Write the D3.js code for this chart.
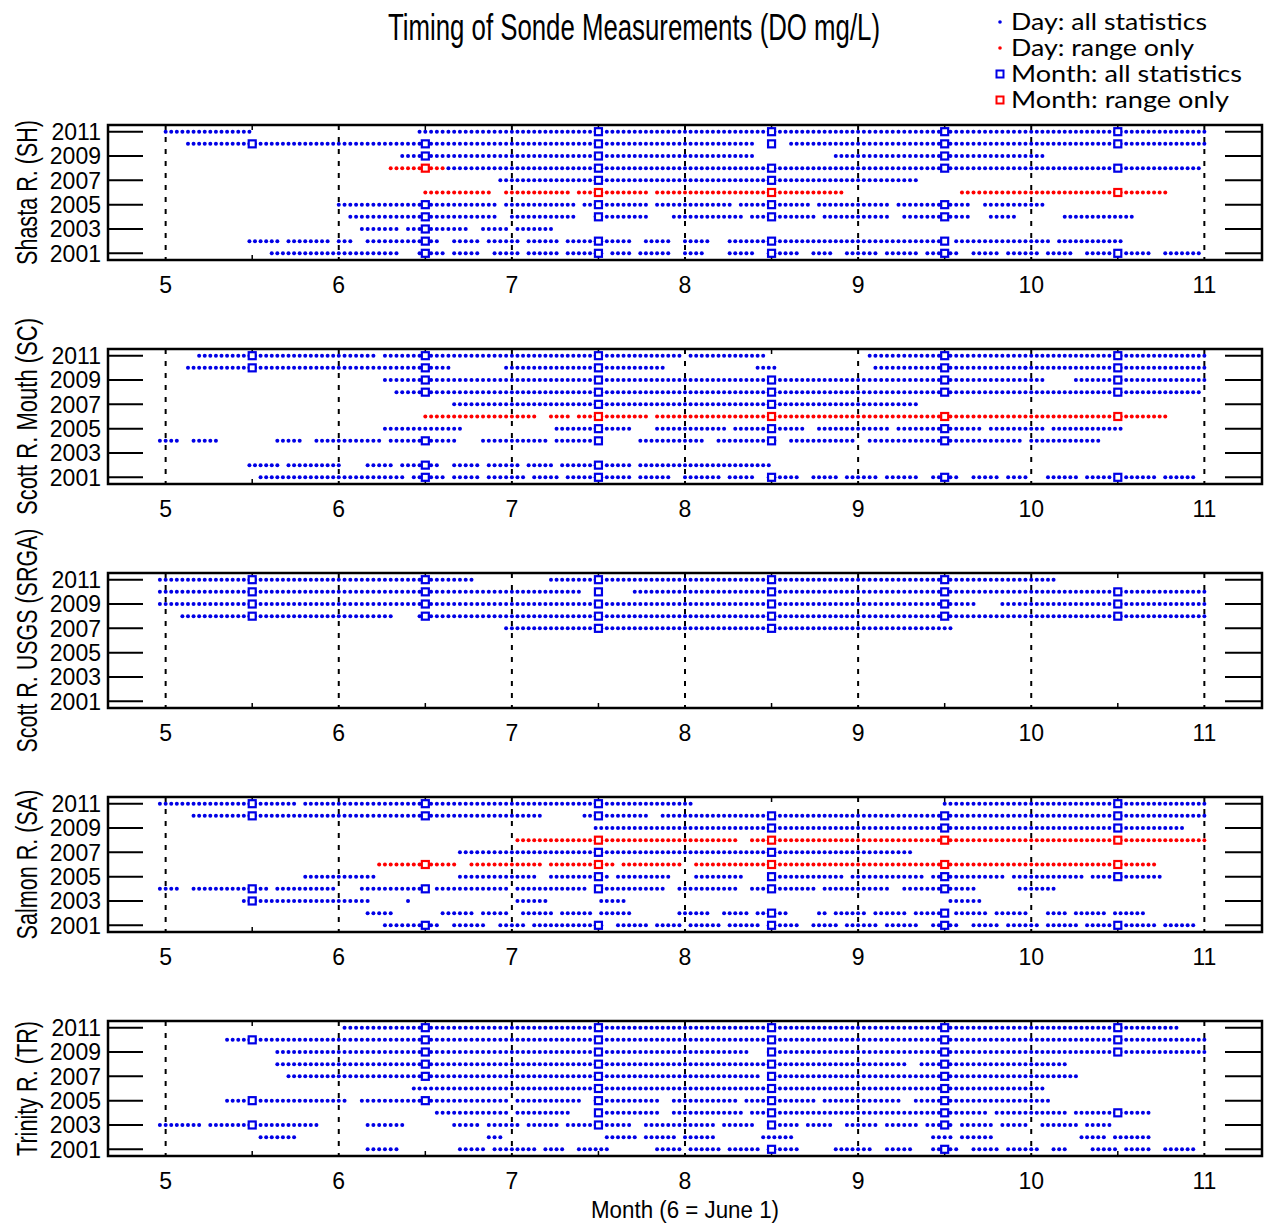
<!DOCTYPE html>
<html lang="en">
  <head>
    <meta charset="UTF-8" />
    <script src="https://d3js.org/d3.v7.min.js"></script>
    <title>Timing of Sonde Measurements</title>
    <style>
      body { margin: 0; background: #fff; }
      text { font-family: "Liberation Sans", Arial, sans-serif; fill: #000; }
      .legend text { font-family: Lato, "Open Sans", sans-serif; }
    </style>
  </head>
  <body>
    <div id="chart"></div>
    <script>
      // runs of daily measurements, [start, end] in decimal months (6 = June 1)
      var shDayAll = [
        [2011, [[5.0, 5.47], [6.46, 11.0]]],
        [2010, [[5.12, 5.74], [5.79, 8.39], [8.62, 11.0]]],
        [2009, [[6.38, 7.7], [7.75, 7.91], [7.95, 8.39], [8.88, 10.07]]],
        [2008, [[6.62, 10.96]]],
        [2007, [[6.92, 9.32]]],
        [2005, [[6.01, 6.9], [6.98, 7.35], [7.43, 7.77], [7.85, 8.25], [8.33, 8.71], [8.79, 9.17], [9.24, 9.62], [9.72, 10.06]]],
        [2004, [[6.08, 6.9], [7.01, 7.36], [7.47, 7.78], [7.92, 8.32], [8.4, 8.75], [8.82, 9.18], [9.27, 9.63], [9.75, 9.9], [10.2, 10.58]]],
        [2003, [[6.12, 6.35], [6.39, 6.52], [6.58, 6.73], [6.82, 6.97], [7.04, 7.23]]],
        [2002, [[5.47, 5.65], [5.72, 5.94], [6.01, 6.07], [6.18, 6.33], [6.38, 6.56], [6.65, 6.81], [6.88, 7.03], [7.11, 7.26], [7.33, 7.5], [7.56, 7.68], [7.78, 7.91], [8.0, 8.13], [8.27, 9.47], [9.57, 10.1], [10.17, 10.51]]],
        [2001, [[5.6, 5.97], [6.01, 6.15], [6.2, 6.35], [6.46, 6.6], [6.66, 6.81], [6.89, 7.03], [7.1, 7.26], [7.33, 7.52], [7.57, 7.68], [7.74, 7.91], [8.0, 8.11], [8.27, 8.4], [8.47, 8.64], [8.73, 8.85], [8.94, 9.1], [9.18, 9.34], [9.41, 9.56], [9.66, 9.79], [9.88, 10.02], [10.11, 10.24], [10.32, 10.45], [10.55, 10.68], [10.79, 10.98]]]
      ];
      var shDayRange = [
        [2008, [[6.31, 6.6]]],
        [2006, [[6.49, 6.86], [6.95, 7.32], [7.4, 7.77], [7.85, 8.9], [9.61, 10.77]]]
      ];
      var shMonAll = [
        [2011, [7, 8, 9, 10]], [2010, [5, 6, 7, 8, 9, 10]], [2009, [6, 7, 9]],
        [2008, [7, 8, 9, 10]], [2007, [7, 8]], [2005, [6, 7, 8, 9]],
        [2004, [6, 7, 8, 9]], [2003, [6]], [2002, [6, 7, 8, 9]], [2001, [6, 7, 8, 9, 10]]
      ];
      var shMonRange = [[2008, [6]], [2006, [7, 8, 10]]];

      var scDayAll = [
        [2011, [[5.18, 6.2], [6.25, 7.98], [8.04, 8.45], [9.05, 11.0]]],
        [2010, [[5.12, 6.63], [6.95, 7.88], [8.43, 8.52], [9.11, 9.96], [9.99, 11.0]]],
        [2009, [[6.28, 10.07], [10.26, 11.0]]],
        [2008, [[6.35, 10.96]]],
        [2007, [[6.68, 9.32]]],
        [2005, [[6.28, 6.7], [7.27, 7.67], [7.85, 8.22], [8.3, 8.67], [8.76, 9.17], [9.24, 9.69], [9.78, 10.06], [10.14, 10.51]]],
        [2004, [[4.98, 5.06], [5.15, 5.29], [5.66, 5.78], [5.86, 6.23], [6.31, 6.67], [6.82, 7.19], [7.27, 7.46], [7.75, 8.1], [8.18, 8.53], [8.62, 8.97], [9.08, 9.47], [9.54, 9.92], [10.0, 10.39]]],
        [2002, [[5.47, 5.65], [5.72, 6.0], [6.15, 6.3], [6.38, 6.56], [6.65, 6.81], [6.88, 7.03], [7.1, 7.23], [7.3, 7.47], [7.56, 7.68], [7.75, 8.48]]],
        [2001, [[5.56, 5.97], [6.01, 6.15], [6.21, 6.36], [6.44, 6.6], [6.66, 6.81], [6.88, 7.06], [7.14, 7.26], [7.32, 7.5], [7.56, 7.68], [7.74, 7.91], [8.0, 8.19], [8.27, 8.39], [8.47, 8.64], [8.73, 8.87], [8.94, 9.1], [9.18, 9.34], [9.42, 9.57], [9.66, 9.8], [9.88, 9.99], [10.11, 10.25], [10.32, 10.45], [10.55, 10.7], [10.79, 10.93]]]
      ];
      var scDayRange = [
        [2006, [[6.49, 7.13], [7.21, 7.32], [7.4, 7.77], [7.85, 10.77]]]
      ];
      var scMonAll = [
        [2011, [5, 6, 7, 9, 10]], [2010, [5, 6, 7, 9, 10]], [2009, [6, 7, 8, 9, 10]],
        [2008, [6, 7, 8, 9, 10]], [2007, [7, 8]], [2005, [7, 8, 9]],
        [2004, [6, 7, 8, 9]], [2002, [6, 7]], [2001, [6, 7, 8, 9, 10]]
      ];
      var scMonRange = [[2006, [7, 8, 9, 10]]];

      var sgDayAll = [
        [2011, [[4.99, 6.76], [7.23, 10.13]]],
        [2010, [[4.99, 7.38], [7.72, 11.0]]],
        [2009, [[4.99, 9.65], [9.85, 11.0]]],
        [2008, [[5.09, 6.29], [6.45, 11.0]]],
        [2007, [[6.96, 9.52]]]
      ];
      var sgDayRange = [];
      var sgMonAll = [
        [2011, [5, 6, 7, 8, 9]], [2010, [5, 6, 7, 8, 9, 10]], [2009, [5, 6, 7, 8, 9, 10]],
        [2008, [5, 6, 7, 8, 9, 10]], [2007, [7, 8]]
      ];
      var sgMonRange = [];

      var saDayAll = [
        [2011, [[4.99, 5.74], [5.8, 8.02], [9.51, 11.0]]],
        [2010, [[5.15, 7.16], [7.43, 7.77], [7.88, 11.0]]],
        [2009, [[7.47, 10.87]]],
        [2007, [[6.71, 9.29]]],
        [2005, [[5.82, 6.2], [6.71, 7.13], [7.21, 7.55], [7.62, 7.9], [8.07, 8.32], [8.56, 8.9], [8.98, 9.37], [9.45, 9.83], [9.91, 10.28], [10.36, 10.74]]],
        [2004, [[4.98, 5.06], [5.15, 5.59], [5.66, 5.99], [6.12, 6.48], [6.58, 6.96], [7.04, 7.41], [7.52, 7.87], [7.98, 8.28], [8.4, 8.74], [8.82, 9.17], [9.27, 9.66], [9.94, 10.13]]],
        [2003, [[5.44, 6.17], [6.39, 6.39], [7.04, 7.19], [7.5, 7.64], [9.54, 9.69]]],
        [2002, [[6.15, 6.3], [6.61, 6.76], [6.85, 6.99], [7.07, 7.23], [7.3, 7.46], [7.53, 7.67], [7.98, 8.13], [8.21, 8.36], [8.43, 8.57], [8.76, 8.8], [8.88, 9.03], [9.11, 9.26], [9.34, 9.5], [9.58, 9.73], [9.81, 9.96], [10.11, 10.19], [10.26, 10.42], [10.49, 10.63]]],
        [2001, [[6.25, 6.58], [6.68, 6.84], [6.92, 7.06], [7.14, 7.38], [7.42, 7.53], [7.6, 7.76], [7.85, 7.96], [8.04, 8.19], [8.27, 8.41], [8.47, 8.64], [8.73, 8.87], [8.94, 9.1], [9.18, 9.34], [9.42, 9.57], [9.66, 9.8], [9.88, 10.02], [10.11, 10.25], [10.32, 10.46], [10.55, 10.7], [10.79, 10.93]]]
      ];
      var saDayRange = [
        [2008, [[7.04, 8.28], [8.4, 11.0]]],
        [2006, [[6.22, 6.68], [6.77, 7.16], [7.24, 7.58], [7.66, 7.99], [8.07, 10.7]]]
      ];
      var saMonAll = [
        [2011, [5, 6, 7, 10]], [2010, [5, 6, 7, 8, 9, 10]], [2009, [8, 9, 10]],
        [2007, [7, 8]], [2005, [7, 8, 9, 10]], [2004, [5, 6, 7, 8, 9]],
        [2003, [5]], [2002, [8, 9]], [2001, [6, 7, 8, 9, 10]]
      ];
      var saMonRange = [[2008, [7, 8, 9, 10]], [2006, [6, 7, 8, 9, 10]]];

      var trDayAll = [
        [2011, [[6.05, 10.83]]],
        [2010, [[5.34, 11.0]]],
        [2009, [[5.66, 8.36], [8.47, 11.0]]],
        [2008, [[5.66, 9.26], [9.38, 10.19]]],
        [2007, [[5.72, 8.42], [8.52, 10.25]]],
        [2006, [[6.44, 10.07]]],
        [2005, [[5.37, 5.46], [5.56, 6.03], [6.12, 6.47], [6.55, 6.97], [7.04, 7.38], [7.47, 7.84], [7.92, 8.28], [8.37, 8.74], [8.82, 9.23], [9.34, 10.09]]],
        [2004, [[6.58, 6.97], [7.04, 7.32], [7.5, 7.84], [7.93, 8.32], [8.4, 9.72], [9.81, 10.19], [10.26, 10.67]]],
        [2003, [[4.98, 5.2], [5.27, 5.87], [6.18, 6.37], [6.65, 6.81], [6.88, 7.03], [7.11, 7.26], [7.33, 7.52], [7.56, 7.68], [7.78, 8.16], [8.24, 8.39], [8.47, 8.64], [8.72, 8.84], [8.92, 9.1], [9.18, 9.33], [9.41, 9.53], [9.61, 9.77], [9.85, 9.99], [10.08, 10.25], [10.33, 10.45]]],
        [2002, [[5.56, 5.74], [6.88, 6.93], [7.56, 7.71], [7.78, 7.93], [8.0, 8.16], [8.46, 8.61], [9.42, 9.53], [9.61, 9.77], [10.29, 10.42], [10.49, 10.67]]],
        [2001, [[6.15, 6.33], [6.71, 6.84], [6.91, 7.13], [7.2, 7.29], [7.39, 7.55], [7.85, 7.96], [8.03, 8.19], [8.27, 8.42], [8.47, 8.64], [8.88, 9.08], [9.17, 9.29], [9.45, 9.56], [9.65, 9.8], [9.88, 10.02], [10.14, 10.19], [10.36, 10.48], [10.55, 10.67], [10.79, 10.93]]]
      ];
      var trDayRange = [];
      var trMonAll = [
        [2011, [6, 7, 8, 9, 10]], [2010, [5, 6, 7, 8, 9, 10]], [2009, [6, 7, 8, 9, 10]],
        [2008, [6, 7, 8, 9]], [2007, [6, 7, 8, 9]], [2006, [7, 8, 9]],
        [2005, [5, 6, 7, 8, 9]], [2004, [7, 8, 9, 10]], [2003, [5, 7, 8, 9]], [2001, [8, 9]]
      ];
      var trMonRange = [];

      var siteLabels = ["Shasta R. (SH)", "Scott R. Mouth (SC)", "Scott R. USGS (SRGA)", "Salmon R. (SA)", "Trinity R. (TR)"];
      var monthTicks = [5, 6, 7, 8, 9, 10, 11];
      var yearTicks = [2001, 2003, 2005, 2007, 2009, 2011];
      var legendLabels = ["Day: all statistics", "Day: range only", "Month: all statistics", "Month: range only"];

      var sites = [
        { dayAll: shDayAll, dayRange: shDayRange, monAll: shMonAll, monRange: shMonRange },
        { dayAll: scDayAll, dayRange: scDayRange, monAll: scMonAll, monRange: scMonRange },
        { dayAll: sgDayAll, dayRange: sgDayRange, monAll: sgMonAll, monRange: sgMonRange },
        { dayAll: saDayAll, dayRange: saDayRange, monAll: saMonAll, monRange: saMonRange },
        { dayAll: trDayAll, dayRange: trDayRange, monAll: trMonAll, monRange: trMonRange }
      ];
      var labelLens = [145, 197, 224, 150, 135];

      var width = 1265,
        height = 1224,
        left = 108,
        right = 1262,
        panelTops = [125, 349, 573, 797, 1021],
        panelH = 135,
        blue = "#0000e6",
        red = "#ff0000";

      var svg = d3.select("#chart").append("svg").attr("width", width).attr("height", height);

      var x = d3.scaleLinear().domain([4.667, 11.333]).range([left, right]);

      // turn a decimal month into a calendar date of that year
      function toDate(year, m) {
        var mo = Math.floor(m),
          dim = new Date(year, mo, 0).getDate(),
          day = Math.min(dim, Math.round((m - mo) * dim) + 1);
        return new Date(year, mo - 1, day);
      }
      function dateToMonth(d) {
        var dim = new Date(d.getFullYear(), d.getMonth() + 1, 0).getDate();
        return d.getMonth() + 1 + (d.getDate() - 1) / dim;
      }
      function dayPoints(rows) {
        var pts = [];
        rows.forEach(function (r) {
          r[1].forEach(function (run) {
            var a = toDate(r[0], run[0]),
              b = d3.timeDay.offset(toDate(r[0], run[1]), 1);
            d3.timeDay.range(a, b).forEach(function (d) {
              pts.push({ year: r[0], m: dateToMonth(d) });
            });
          });
        });
        return pts;
      }
      function monthPoints(rows) {
        var pts = [];
        rows.forEach(function (r) {
          r[1].forEach(function (mo) {
            pts.push({ year: r[0], m: mo + 0.5 });
          });
        });
        return pts;
      }

      sites.forEach(function (site, i) {
        var top = panelTops[i];
        var y = d3.scaleLinear().domain([2000.45, 2011.55]).range([top + panelH, top]);
        var g = svg.append("g");

        // dashed month lines
        g.selectAll("line.grid")
          .data(monthTicks)
          .enter()
          .append("line")
          .attr("x1", function (d) { return x(d); })
          .attr("x2", function (d) { return x(d); })
          .attr("y1", top)
          .attr("y2", top + panelH)
          .attr("stroke", "#000")
          .attr("stroke-width", 2)
          .attr("stroke-dasharray", "5,7");

        // half month minor ticks
        var half = d3.range(5, 11).map(function (d) { return d + 0.5; });
        [top, top + panelH].forEach(function (yy, k) {
          g.selectAll(null)
            .data(half)
            .enter()
            .append("line")
            .attr("x1", function (d) { return x(d); })
            .attr("x2", function (d) { return x(d); })
            .attr("y1", yy)
            .attr("y2", k ? yy - 5 : yy + 5)
            .attr("stroke", "#000")
            .attr("stroke-width", 1.5);
        });

        // year ticks, left and right
        g.selectAll(null)
          .data(yearTicks)
          .enter()
          .append("line")
          .attr("x1", left)
          .attr("x2", left + 35)
          .attr("y1", function (d) { return y(d); })
          .attr("y2", function (d) { return y(d); })
          .attr("stroke", "#000")
          .attr("stroke-width", 2);
        g.selectAll(null)
          .data(yearTicks)
          .enter()
          .append("line")
          .attr("x1", right - 37)
          .attr("x2", right)
          .attr("y1", function (d) { return y(d); })
          .attr("y2", function (d) { return y(d); })
          .attr("stroke", "#000")
          .attr("stroke-width", 2);

        g.selectAll(null)
          .data(yearTicks)
          .enter()
          .append("text")
          .attr("x", 101)
          .attr("y", function (d) { return y(d); })
          .attr("dy", "0.36em")
          .attr("text-anchor", "end")
          .attr("font-size", 23)
          .text(function (d) { return d; });

        g.selectAll(null)
          .data(monthTicks)
          .enter()
          .append("text")
          .attr("x", function (d) { return x(d); })
          .attr("y", top + panelH + 33)
          .attr("text-anchor", "middle")
          .attr("font-size", 23)
          .text(function (d) { return d; });

        g.append("text")
          .attr("transform", "translate(37," + (top + panelH / 2) + ") rotate(-90)")
          .attr("text-anchor", "middle")
          .attr("font-size", 29)
          .attr("textLength", labelLens[i])
          .attr("lengthAdjust", "spacingAndGlyphs")
          .text(siteLabels[i]);

        // daily dots
        g.selectAll("circle.all")
          .data(dayPoints(site.dayAll))
          .enter()
          .append("circle")
          .attr("cx", function (d) { return x(d.m); })
          .attr("cy", function (d) { return y(d.year); })
          .attr("r", 2)
          .attr("fill", blue);
        g.selectAll("circle.range")
          .data(dayPoints(site.dayRange))
          .enter()
          .append("circle")
          .attr("cx", function (d) { return x(d.m); })
          .attr("cy", function (d) { return y(d.year); })
          .attr("r", 2)
          .attr("fill", red);

        // monthly squares
        [[site.monAll, blue], [site.monRange, red]].forEach(function (p) {
          g.selectAll(null)
            .data(monthPoints(p[0]))
            .enter()
            .append("rect")
            .attr("x", function (d) { return x(d.m) - 3.5; })
            .attr("y", function (d) { return y(d.year) - 3.5; })
            .attr("width", 7)
            .attr("height", 7)
            .attr("fill", "#fff")
            .attr("stroke", p[1])
            .attr("stroke-width", 2.2);
        });

        g.append("rect")
          .attr("x", left)
          .attr("y", top)
          .attr("width", right - left)
          .attr("height", panelH)
          .attr("fill", "none")
          .attr("stroke", "#000")
          .attr("stroke-width", 2.5);
      });

      svg.append("text")
        .attr("x", 634)
        .attr("y", 40)
        .attr("text-anchor", "middle")
        .attr("font-size", 37)
        .attr("textLength", 492)
        .attr("lengthAdjust", "spacingAndGlyphs")
        .text("Timing of Sonde Measurements (DO mg/L)");

      svg.append("text")
        .attr("x", 685)
        .attr("y", 1218)
        .attr("text-anchor", "middle")
        .attr("font-size", 23)
        .attr("textLength", 188)
        .attr("lengthAdjust", "spacingAndGlyphs")
        .text("Month (6 = June 1)");

      // legend
      var legendLens = [196, 183, 231, 218];
      var lg = svg.append("g").attr("class", "legend");
      legendLabels.forEach(function (t, i) {
        var yy = 22 + i * 26,
          c = i % 2 ? red : blue;
        if (i < 2) {
          lg.append("circle").attr("cx", 1000).attr("cy", yy).attr("r", 1.8).attr("fill", c);
        } else {
          lg.append("rect")
            .attr("x", 996.5)
            .attr("y", yy - 3.5)
            .attr("width", 7)
            .attr("height", 7)
            .attr("fill", "#fff")
            .attr("stroke", c)
            .attr("stroke-width", 2);
        }
        lg.append("text")
          .attr("x", 1011)
          .attr("y", yy)
          .attr("dy", "0.35em")
          .attr("font-size", 23)
          .attr("textLength", legendLens[i])
          .attr("lengthAdjust", "spacingAndGlyphs")
          .text(t);
      });
    </script>
  </body>
</html>
